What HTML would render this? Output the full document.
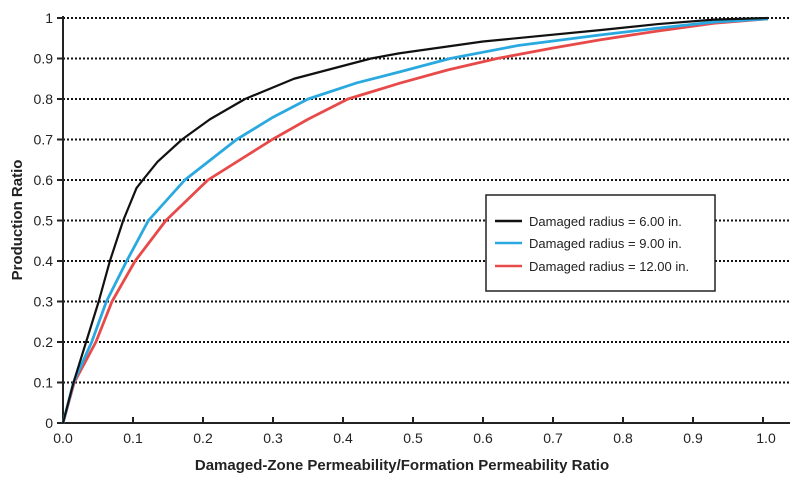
<!DOCTYPE html>
<html><head><meta charset="utf-8"><style>
body{margin:0;background:#fff}
svg{display:block;font-family:"Liberation Sans",Arial,sans-serif}
</style></head><body>
<svg width="800" height="483" viewBox="0 0 800 483">
<g stroke="#111" stroke-width="2" stroke-dasharray="2,2">
<line x1="63" y1="382.5" x2="790" y2="382.5"/>
<line x1="63" y1="342" x2="790" y2="342"/>
<line x1="63" y1="301.5" x2="790" y2="301.5"/>
<line x1="63" y1="261" x2="790" y2="261"/>
<line x1="63" y1="220.5" x2="790" y2="220.5"/>
<line x1="63" y1="180" x2="790" y2="180"/>
<line x1="63" y1="139.5" x2="790" y2="139.5"/>
<line x1="63" y1="99" x2="790" y2="99"/>
<line x1="63" y1="58.5" x2="790" y2="58.5"/>
<line x1="63" y1="18" x2="790" y2="18"/>
</g>
<g stroke="#222" stroke-width="2" fill="none">
<line x1="63" y1="16" x2="63" y2="424"/>
<line x1="62" y1="423" x2="790" y2="423"/>
<path d="M57 423H63M57 382.5H63M57 342H63M57 301.5H63M57 261H63M57 220.5H63M57 180H63M57 139.5H63M57 99H63M57 58.5H63M57 18H63"/>
<path d="M133 423V417M203 423V417M273 423V417M343 423V417M413 423V417M483 423V417M553 423V417M623 423V417M693 423V417M763 423V417"/>
</g>
<g font-size="14" fill="#222" text-anchor="end">
<text x="53" y="428">0</text><text x="53" y="387.5">0.1</text><text x="53" y="347">0.2</text><text x="53" y="306.5">0.3</text><text x="53" y="266">0.4</text><text x="53" y="225.5">0.5</text><text x="53" y="185">0.6</text><text x="53" y="144.5">0.7</text><text x="53" y="104">0.8</text><text x="53" y="63.5">0.9</text><text x="53" y="23">1</text>
</g>
<g font-size="14" fill="#222" text-anchor="middle">
<text x="63" y="443">0.0</text><text x="133" y="443">0.1</text><text x="203" y="443">0.2</text><text x="273" y="443">0.3</text><text x="343" y="443">0.4</text><text x="413" y="443">0.5</text><text x="483" y="443">0.6</text><text x="553" y="443">0.7</text><text x="623" y="443">0.8</text><text x="693" y="443">0.9</text><text x="766" y="443">1.0</text>
</g>
<text x="402" y="470" font-size="15" font-weight="bold" fill="#222" text-anchor="middle">Damaged-Zone Permeability/Formation Permeability Ratio</text>
<text transform="translate(22,220) rotate(-90)" font-size="15" font-weight="bold" fill="#222" text-anchor="middle">Production Ratio</text>
<g transform="translate(63,423) scale(700,-405)" fill="none" stroke-linejoin="round">
<path vector-effect="non-scaling-stroke" stroke="#e84a4a" stroke-width="2.8" d="M0 0L0.016 0.1L0.047 0.2L0.07 0.3L0.103 0.4L0.147 0.5L0.207 0.6L0.299 0.7L0.35 0.75L0.407 0.8L0.481 0.839L0.55 0.872L0.62 0.9L0.7 0.926L0.767 0.946L0.85 0.968L0.93 0.987L1.007 0.998"/>
<path vector-effect="non-scaling-stroke" stroke="#2aa9e0" stroke-width="2.8" d="M0 0L0.015 0.1L0.041 0.2L0.062 0.3L0.091 0.4L0.122 0.5L0.174 0.6L0.248 0.7L0.3 0.755L0.35 0.8L0.42 0.84L0.481 0.867L0.553 0.9L0.65 0.932L0.767 0.958L0.85 0.975L0.93 0.99L1.007 0.998"/>
<path vector-effect="non-scaling-stroke" stroke="#111" stroke-width="2.2" d="M0 0L0.015 0.1L0.033 0.2L0.051 0.3L0.067 0.4L0.086 0.5L0.105 0.58L0.114 0.6L0.135 0.645L0.17 0.7L0.21 0.75L0.26 0.8L0.33 0.85L0.44 0.9L0.481 0.913L0.6 0.942L0.767 0.97L0.85 0.985L0.93 0.996L1.007 1"/>
</g>
<rect x="486" y="195" width="229" height="96" fill="#fff" stroke="#222" stroke-width="1.5"/>
<g stroke-width="2.5">
<line x1="495" y1="221" x2="522" y2="221" stroke="#111"/>
<line x1="495" y1="243" x2="522" y2="243" stroke="#2aa9e0"/>
<line x1="495" y1="266" x2="522" y2="266" stroke="#e84a4a"/>
</g>
<g font-size="13" fill="#222">
<text x="529" y="226">Damaged radius = 6.00 in.</text>
<text x="529" y="248">Damaged radius = 9.00 in.</text>
<text x="529" y="271">Damaged radius = 12.00 in.</text>
</g>
</svg>
</body></html>
